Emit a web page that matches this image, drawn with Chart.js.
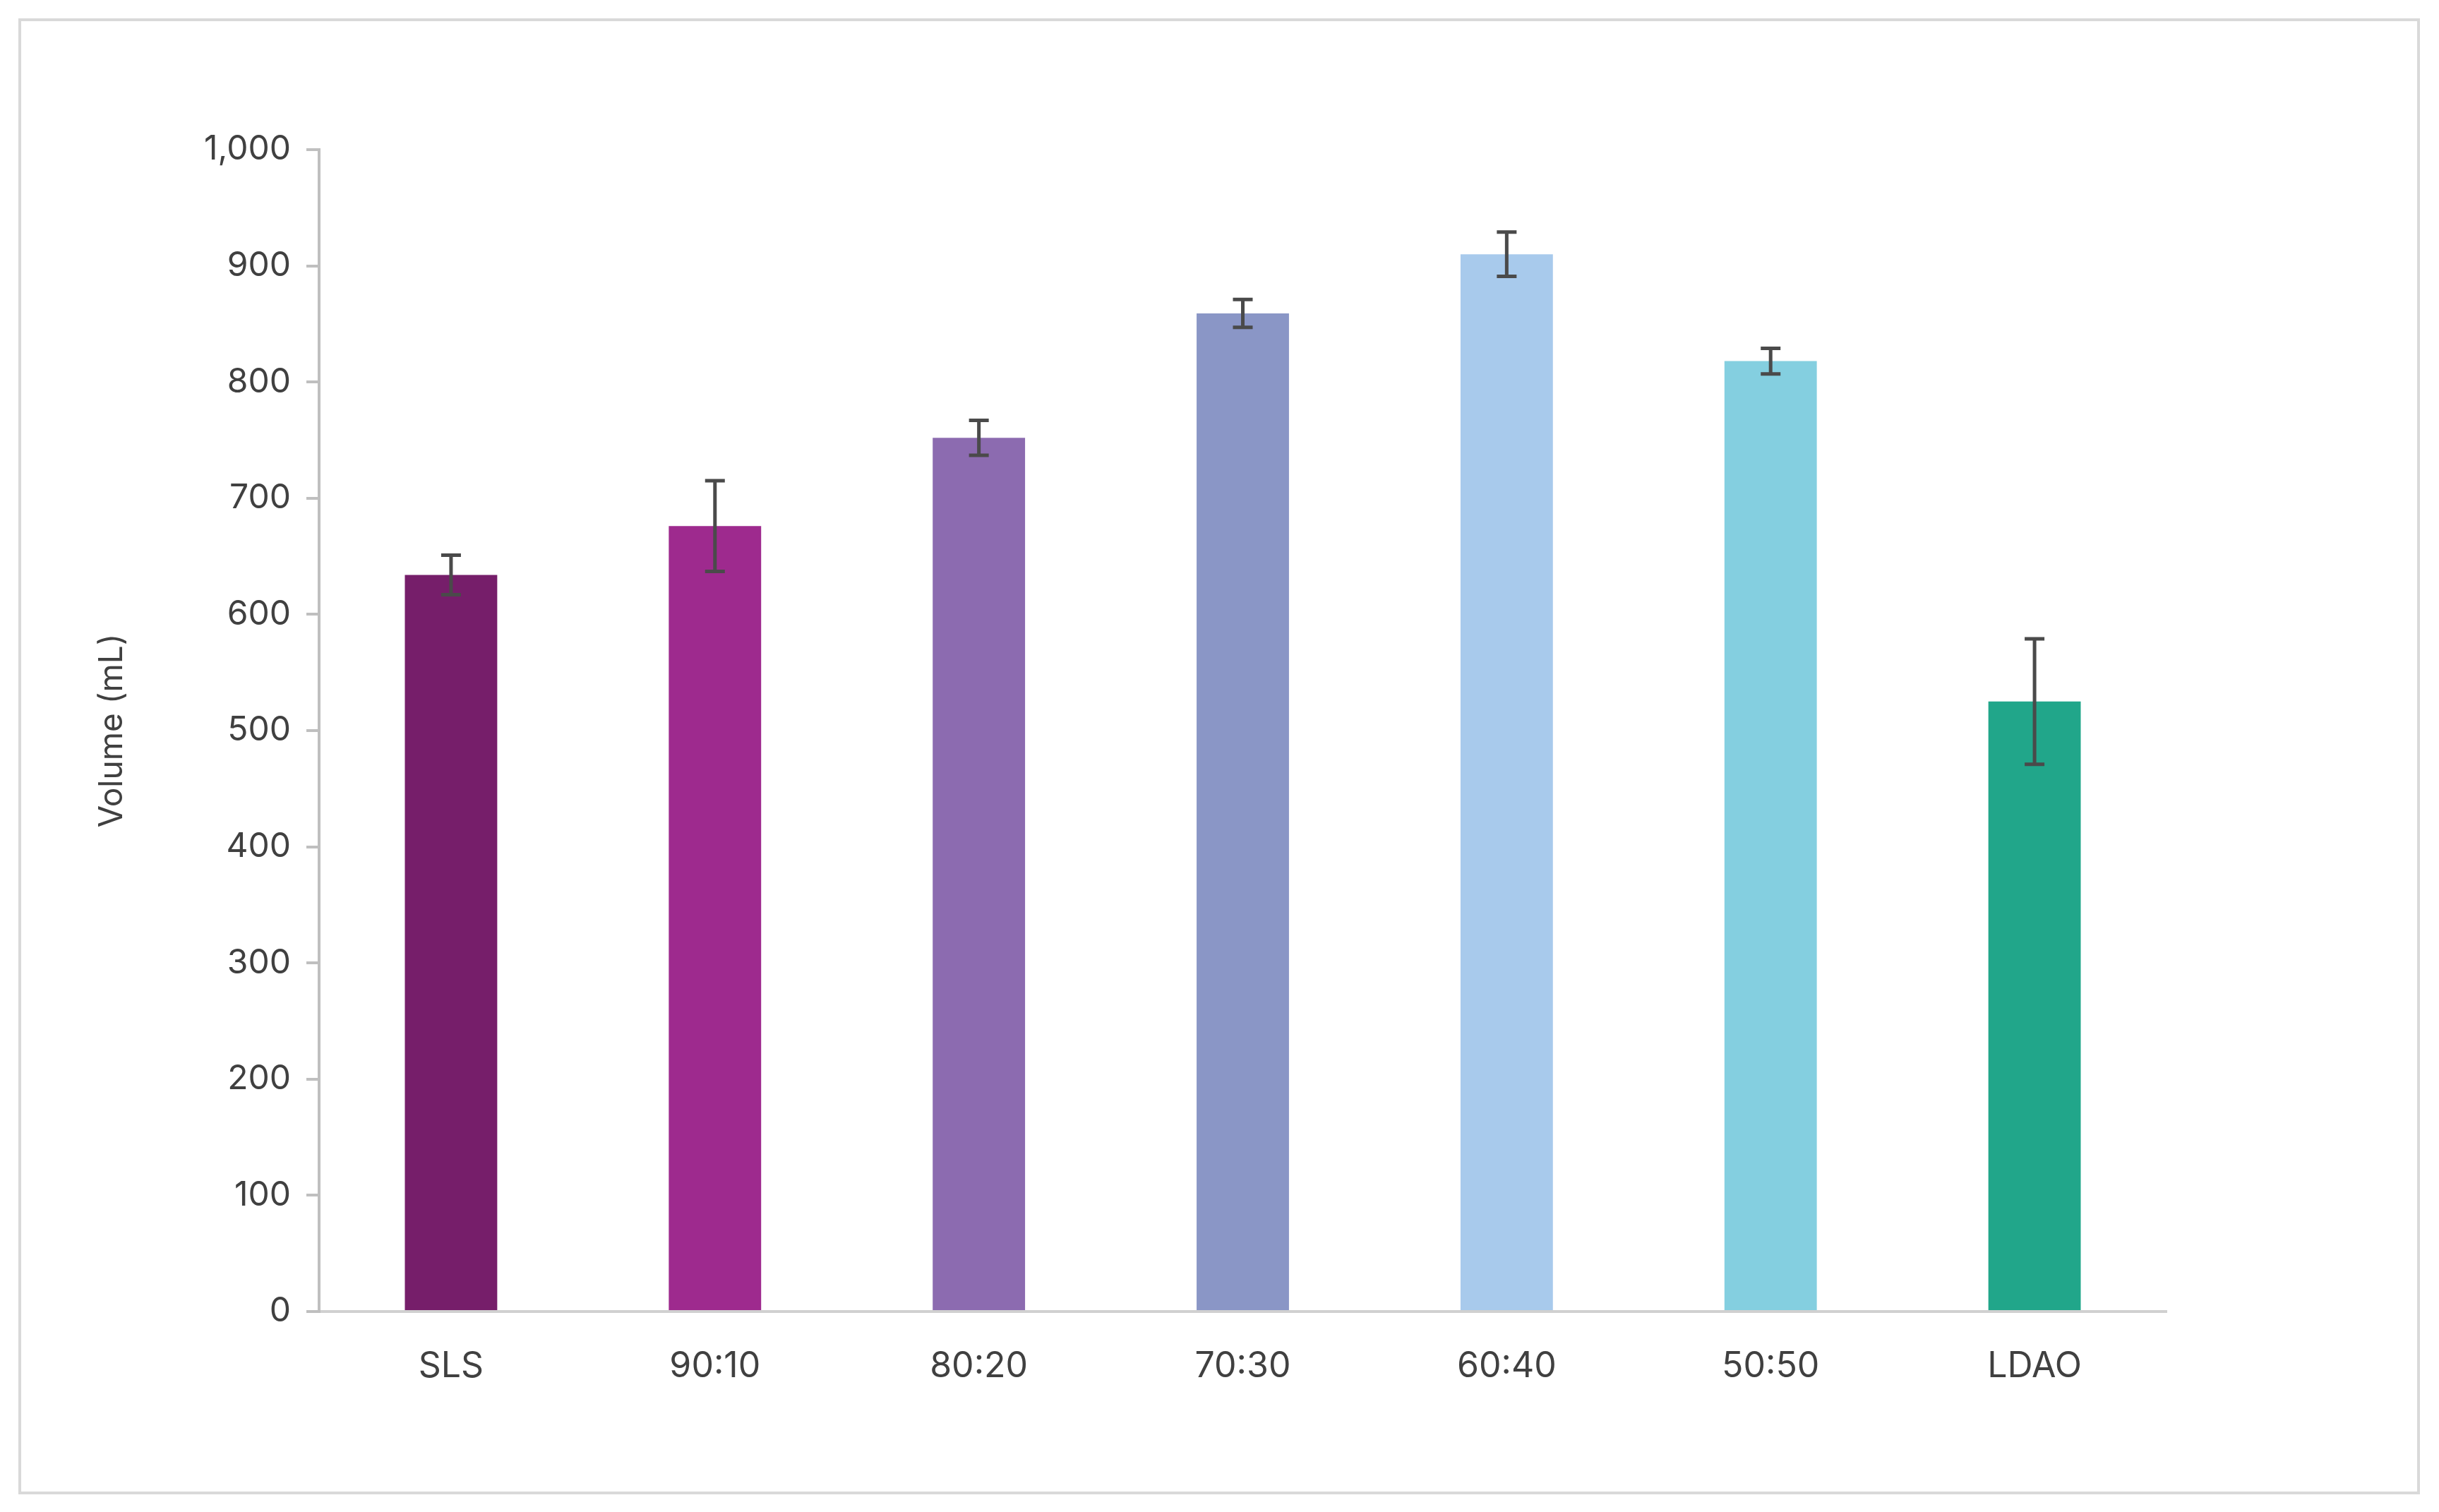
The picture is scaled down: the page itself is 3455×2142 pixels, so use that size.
<!DOCTYPE html>
<html>
<head>
<meta charset="utf-8">
<script src="https://cdn.jsdelivr.net/npm/chart.js@4/dist/chart.umd.min.js"></script>
<style>
  html, body { margin: 0; padding: 0; background: #fff; }
  #frame { position: absolute; left: 26px; top: 26px; width: 3394px; height: 2083px; border: 4px solid #d9d9d9; }
  #wrap { position: absolute; left: 0; top: 0; width: 3455px; height: 2142px; }
</style>
</head>
<body>
<div id="frame"></div>
<div id="wrap"><canvas id="chart"></canvas></div>
<script>
const categories = ['SLS', '90:10', '80:20', '70:30', '60:40', '50:50', 'LDAO'];
const volumes = [634, 676, 752, 859, 910, 818, 525];
const errors = [17, 39, 15, 12, 19, 11, 54];
const colors = ['#761e6a', '#9e2a8e', '#8c6bb0', '#8a96c6', '#a8caec', '#84cfe0', '#21a68a'];

// draws the error bars from the data through the scales
const errorBars = {
    id: 'errorBars',
    afterDatasetsDraw(chart) {
        const ctx = chart.ctx;
        const meta = chart.getDatasetMeta(0);
        const y = chart.scales.y;
        ctx.save();
        ctx.strokeStyle = '#4a4a4a';
        ctx.lineWidth = 5;
        meta.data.forEach((bar, i) => {
            const top = y.getPixelForValue(volumes[i] + errors[i]);
            const bot = y.getPixelForValue(volumes[i] - errors[i]);
            const cap = 14;
            ctx.beginPath();
            ctx.moveTo(bar.x, top); ctx.lineTo(bar.x, bot);
            ctx.moveTo(bar.x - cap, top); ctx.lineTo(bar.x + cap, top);
            ctx.moveTo(bar.x - cap, bot); ctx.lineTo(bar.x + cap, bot);
            ctx.stroke();
        });
        ctx.restore();
    }
};

const ctx = document.getElementById('chart').getContext('2d');
const chart = new Chart(ctx, {
    type: 'bar',
    data: {
        labels: categories,
        datasets: [{
            data: volumes,
            backgroundColor: colors,
            categoryPercentage: 1,
            barPercentage: 0.35
        }]
    },
    options: {
        responsive: true,
        maintainAspectRatio: false,
        animation: false,
        devicePixelRatio: 1,
        layout: { padding: { left: 52, right: 386, top: 212, bottom: 0 } },
        plugins: { legend: { display: false }, tooltip: { enabled: false } },
        scales: {
            x: {
                grid: { display: false },
                border: { display: true, color: '#d0d0d0', width: 4 },
                ticks: { color: '#404040', font: { family: 'Inter', size: 50 }, padding: 40 },
                afterFit(scale) { scale.height = 284; }
            },
            y: {
                min: 0,
                max: 1000,
                ticks: { stepSize: 100, color: '#404040', font: { family: 'Inter', size: 48 }, padding: 22 },
                grid: { drawOnChartArea: false, drawTicks: true, tickLength: 18, color: '#bfbfbf', lineWidth: 4 },
                border: { display: true, color: '#bfbfbf', width: 4 },
                title: { display: true, text: 'Volume (mL)', color: '#404040', font: { family: 'Inter', size: 46 }, padding: { top: 80, bottom: 0 } },
                afterFit(scale) { scale.width = 400; }
            }
        }
    },
    plugins: [errorBars]
});
</script>
</body>
</html>
